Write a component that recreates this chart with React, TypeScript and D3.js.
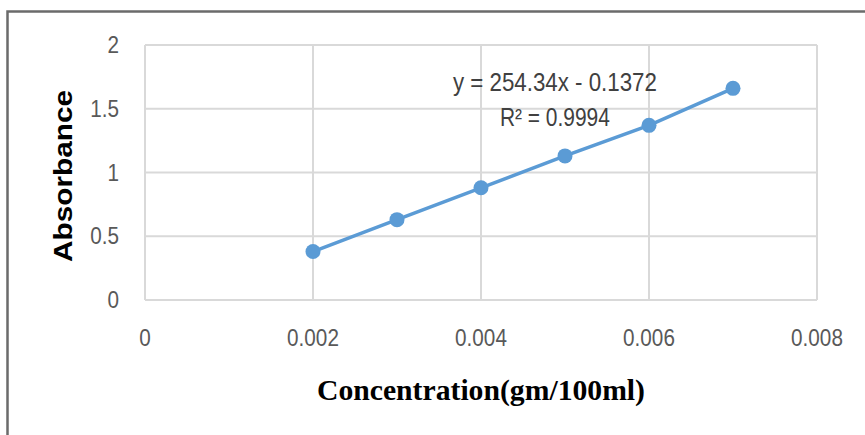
import React from "react";
import * as d3 from "d3";

const concentrations = [0.002, 0.003, 0.004, 0.005, 0.006, 0.007];
const absorbances = [0.38, 0.63, 0.88, 1.13, 1.37, 1.66];
const xTicks = [0, 0.002, 0.004, 0.006, 0.008];
const yTicks = [0, 0.5, 1, 1.5, 2];
const xTickLabels = ["0", "0.002", "0.004", "0.006", "0.008"];
const yTickLabels = ["0", "0.5", "1", "1.5", "2"];
const equationLines = ["y = 254.34x  - 0.1372", "R\u00B2 = 0.9994"];
const xTitle = "Concentration(gm/100ml)";
const yTitle = "Absorbance";

const W = 865;
const H = 435;
const plot = { left: 145, right: 817, top: 45, bottom: 300 };

export default function App() {
  const x = d3.scaleLinear().domain([0, 0.008]).range([plot.left, plot.right]);
  const y = d3.scaleLinear().domain([0, 2]).range([plot.bottom, plot.top]);
  const pts = concentrations.map((c, i) => [c, absorbances[i]] as [number, number]);
  const line = d3
    .line<[number, number]>()
    .x((d) => x(d[0]))
    .y((d) => y(d[1]));
  const grid = "#d9d9d9";
  const blue = "#5B9BD5";
  const tickColor = "#595959";
  const eqX = x(0.00488);
  const tickFont = "'Liberation Sans', Arial, sans-serif";
  return (
    <svg
      width={W}
      height={H}
      style={{ position: "absolute", left: 0, top: 0, background: "#fff" }}
    >
      <rect x={0} y={0} width={W} height={H} fill="#fff" />
      {/* outer chart border */}
      <rect x={7.5} y={11.5} width={W + 20} height={H + 20} fill="none" stroke="#6b6b6b" strokeWidth={2.5} />
      {/* gridlines */}
      {yTicks.map((t) => (
        <line key={"gy" + t} x1={plot.left} x2={plot.right} y1={y(t)} y2={y(t)} stroke={grid} strokeWidth={2} />
      ))}
      {xTicks.map((t) => (
        <line key={"gx" + t} x1={x(t)} x2={x(t)} y1={plot.top} y2={plot.bottom} stroke={grid} strokeWidth={2} />
      ))}
      {/* tick labels */}
      {yTicks.map((t, i) => (
        <text
          key={"yl" + t}
          transform={`translate(${plot.left - 26}, ${y(t)}) scale(0.9, 1)`}
          dy="0.35em"
          textAnchor="end"
          fontFamily={tickFont}
          fontSize={23}
          fill={tickColor}
        >
          {yTickLabels[i]}
        </text>
      ))}
      {xTicks.map((t, i) => (
        <text
          key={"xl" + t}
          transform={`translate(${x(t)}, ${plot.bottom + 38}) scale(0.9, 1)`}
          dy="0.35em"
          textAnchor="middle"
          fontFamily={tickFont}
          fontSize={23}
          fill={tickColor}
        >
          {xTickLabels[i]}
        </text>
      ))}
      {/* data line and markers */}
      <path d={line(pts) || ""} fill="none" stroke={blue} strokeWidth={3.5} />
      {pts.map((p, i) => (
        <circle key={"p" + i} cx={x(p[0])} cy={y(p[1])} r={7.5} fill={blue} />
      ))}
      {/* equation */}
      <text
        x={eqX}
        y={91}
        textAnchor="middle"
        fontFamily={tickFont}
        fontSize={25}
        fill="#404040"
        textLength={204}
        lengthAdjust="spacingAndGlyphs"
      >
        {equationLines[0]}
      </text>
      <text
        x={eqX}
        y={126}
        textAnchor="middle"
        fontFamily={tickFont}
        fontSize={25}
        fill="#404040"
        textLength={110}
        lengthAdjust="spacingAndGlyphs"
      >
        {equationLines[1]}
      </text>
      {/* axis titles */}
      <text
        transform={`translate(72, ${(90 + 262) / 2}) rotate(-90)`}
        textAnchor="middle"
        fontFamily={tickFont}
        fontWeight="bold"
        fontSize={26}
        fill="#000"
        textLength={172}
        lengthAdjust="spacingAndGlyphs"
      >
        {yTitle}
      </text>
      <text
        x={(plot.left + plot.right) / 2}
        y={400}
        textAnchor="middle"
        fontFamily="'Liberation Serif', 'Times New Roman', serif"
        fontWeight="bold"
        fontSize={29}
        fill="#000"
        textLength={328}
        lengthAdjust="spacingAndGlyphs"
      >
        {xTitle}
      </text>
    </svg>
  );
}
